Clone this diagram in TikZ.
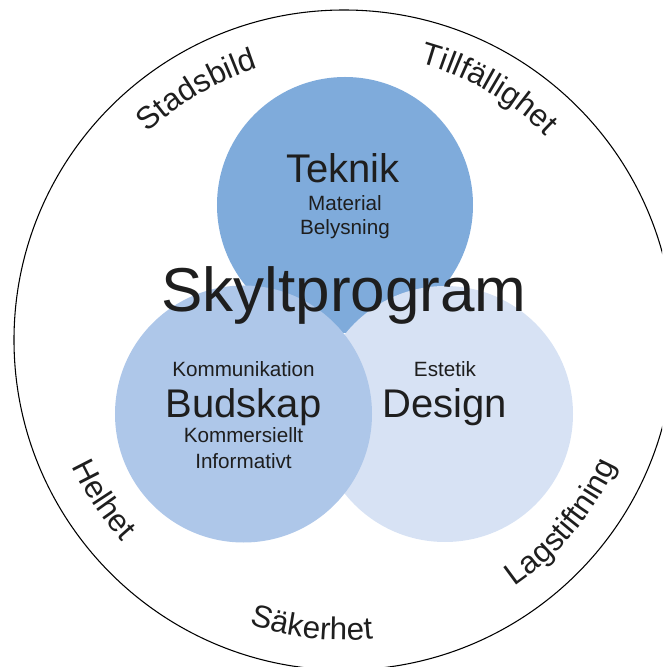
\documentclass[tikz,border=0pt]{standalone}
\usepackage{fontspec}
\setmainfont{Liberation Sans}
\usetikzlibrary{decorations.text}
\definecolor{teknikblue}{RGB}{127,171,219}
\definecolor{budskapblue}{RGB}{174,199,233}
\definecolor{designblue}{RGB}{215,226,244}
\definecolor{inktext}{RGB}{30,30,30}
\def\ringsize{\fontsize{23.5}{23.5}\selectfont}

\begin{document}
\begin{tikzpicture}[x=0.75pt,y=0.75pt,
  titleword/.style={anchor=base,inner sep=0pt,text=inktext,font=\fontsize{46.5}{46.5}\selectfont},
  bigword/.style={anchor=base,inner sep=0pt,text=inktext,font=\fontsize{30}{30}\selectfont},
  smallword/.style={anchor=base,inner sep=0pt,text=inktext,font=\fontsize{15.5}{15.5}\selectfont},
  ringword/.style={decorate,decoration={text along path,text align=center,text color=inktext,text={|\ringsize|#1}}}]
	\useasboundingbox (-344,-327) rectangle (318,340);
	\clip (-344,-327) rectangle (318,340);
	\coordinate (mid) at (0,0);
	\coordinate (tek) at (1,135);
	\coordinate (bud) at (-100.5,-74);
	\coordinate (des) at (101,-74);
	% the three fields
	\fill [teknikblue] (tek) circle (128);
	\fill [designblue] (des) circle (128);
	\fill [budskapblue] (bud) circle (128.5);
	% outer ring
	\draw [line width=0.8pt] (mid) circle (330);
	\path [ringword=Stadsbild] (mid) ++(150.5:285) arc [start angle=150.5, end angle=90.5, radius=285];
	\path [ringword=Tillfällighet] (mid) ++(90:287) arc [start angle=90, end angle=30, radius=287];
	\path [ringword=Helhet] (mid) ++(183.6:300) arc [start angle=183.6, end angle=243.6, radius=300];
	\path [ringword=Säkerhet] (mid) ++(233.6:300) arc [start angle=233.6, end angle=293.6, radius=300];
	\path [ringword=Lagstiftning] (mid) ++(290:300) arc [start angle=290, end angle=350, radius=300];
	% texts
	\node [titleword] (title) at (0,28) {Skyltprogram};
	\node [bigword] (teknik) at (-1,157) {Teknik};
	\node [smallword] (material) at (1,129) {Material};
	\node [smallword] (belysning) at (1,105) {Belysning};
	\node [smallword] (kommunikation) at (-100.5,-37) {Kommunikation};
	\node [bigword] (budskap) at (-100.5,-77) {Budskap};
	\node [smallword] (kommersiellt) at (-100.5,-103) {Kommersiellt};
	\node [smallword] (informativt) at (-100.5,-128) {Informativt};
	\node [smallword] (estetik) at (101,-37) {Estetik};
	\node [bigword] (design) at (101,-77) {Design};
\end{tikzpicture}
\end{document}
